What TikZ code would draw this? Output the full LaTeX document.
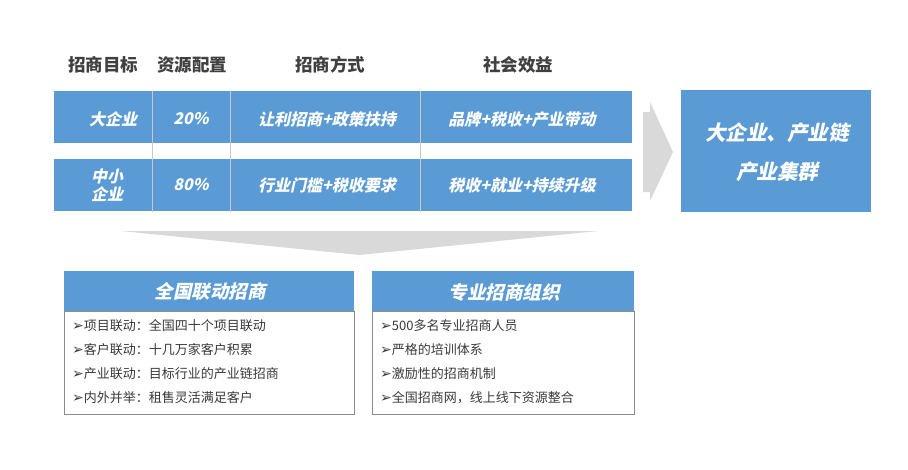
\documentclass[tikz,border=0pt]{standalone}
\usepackage{fontspec}
\setmainfont{Noto Sans CJK SC}
\newfontfamily\cjkslant{Noto Sans CJK SC}[FakeSlant=0.22]
\newfontfamily\dvs{DejaVu Sans}
\definecolor{barblue}{HTML}{5B9BD5}
\definecolor{arrowgray}{HTML}{D9D9D9}
\definecolor{hdrgray}{HTML}{404040}
\definecolor{bodygray}{HTML}{3A3A3A}
\definecolor{divgray}{HTML}{C8C8C8}
\definecolor{boxborder}{HTML}{8C8C8C}
\tikzset{
  colhead/.style={font=\fontsize{17.5}{19}\selectfont\bfseries, text=hdrgray, anchor=center},
  bar/.style={fill=barblue, draw=none, minimum width=578pt, minimum height=52pt, inner sep=0pt},
  celltxt/.style={font=\cjkslant\bfseries\fontsize{16}{18}\selectfont, text=white, align=center, inner sep=0pt},
  bigbox/.style={fill=barblue, draw=none, minimum width=190pt, minimum height=122pt, inner sep=0pt},
  bigtxt/.style={font=\cjkslant\bfseries\fontsize{20.5}{39}\selectfont, text=white, align=center},
  panelhead/.style={fill=barblue, draw=none, minimum height=40pt, inner sep=0pt},
  paneltitle/.style={font=\cjkslant\bfseries\fontsize{18.5}{20}\selectfont, text=white},
  panelbody/.style={fill=white, draw=boxborder, line width=0.8pt, minimum height=103pt, inner sep=0pt},
  item/.style={font=\fontsize{13}{15}\selectfont, text=bodygray, anchor=west, inner sep=0pt},
  divider/.style={draw=divgray, line width=0.8pt},
  shapefill/.style={fill=arrowgray, draw=none}
}
\newcommand{\bul}{{\dvs\fontsize{14}{15}\selectfont ➢}}
\begin{document}
\begin{tikzpicture}[x=1pt,y=-1pt]
\useasboundingbox (0,0) rectangle (908,469);
% column headings
\node[colhead] (h1) at (103,65) {招商目标};
\node[colhead] (h2) at (192,65) {资源配置};
\node[colhead] (h3) at (330,65) {招商方式};
\node[colhead] (h4) at (518,65) {社会效益};
% bars
\node[bar] (r1) at (343,117) {};
\node[bar] (r2) at (343,185) {};
% dividers
\coordinate (d1t) at (152,91); \coordinate (d1b) at (152,212);
\coordinate (d2t) at (230,91); \coordinate (d2b) at (230,212);
\coordinate (d3t) at (420,91); \coordinate (d3b) at (420,212);
\draw[divider] (d1t) -- (d1b);
\draw[divider] (d2t) -- (d2b);
\draw[divider] (d3t) -- (d3b);
% row texts
\node[celltxt] (c11) at (113,119) {大企业};
\node[celltxt] (c12) at (191,119) {20\%};
\node[celltxt] (c13) at (327,119) {让利招商+政策扶持};
\node[celltxt] (c14) at (522,119) {品牌+税收+产业带动};
\node[celltxt, font=\cjkslant\bfseries\fontsize{16}{18}\selectfont] (c21) at (107,185) {中小\\企业};
\node[celltxt] (c22) at (191,185) {80\%};
\node[celltxt] (c23) at (327,185) {行业门槛+税收要求};
\node[celltxt] (c24) at (522,185) {税收+就业+持续升级};
% right arrow
\path[shapefill] (643,112) -- (650,112) -- (650,102) -- (673,152) -- (650,201) -- (650,192) -- (643,192) -- cycle;
% result box
\node[bigbox] (res) at (776,151) {};
\node[bigtxt] (restxt) at (777,152) {大企业、产业链\\产业集群};
% down arrow
\path[shapefill] (121,231) -- (598,231) -- (359,255) -- cycle;
% left panel
\node[panelhead, minimum width=290pt] (lh) at (209,291) {};
\node[paneltitle] (lt) at (210,292) {全国联动招商};
\node[panelbody, minimum width=290pt] (lb) at (209,362.5) {};
\node[item] (l1) at (72,326) {\bul 项目联动：全国四十个项目联动};
\node[item] (l2) at (72,350) {\bul 客户联动：十几万家客户积累};
\node[item] (l3) at (72,374) {\bul 产业联动：目标行业的产业链招商};
\node[item] (l4) at (72,398) {\bul 内外并举：租售灵活满足客户};
% right panel
\node[panelhead, minimum width=262pt] (rh) at (503,291) {};
\node[paneltitle] (rt) at (504,292) {专业招商组织};
\node[panelbody, minimum width=262pt] (rb) at (503,362.5) {};
\node[item] (m1) at (380,326) {\bul 500多名专业招商人员};
\node[item] (m2) at (380,350) {\bul 严格的培训体系};
\node[item] (m3) at (380,374) {\bul 激励性的招商机制};
\node[item] (m4) at (380,398) {\bul 全国招商网，线上线下资源整合};
\end{tikzpicture}
\end{document}
